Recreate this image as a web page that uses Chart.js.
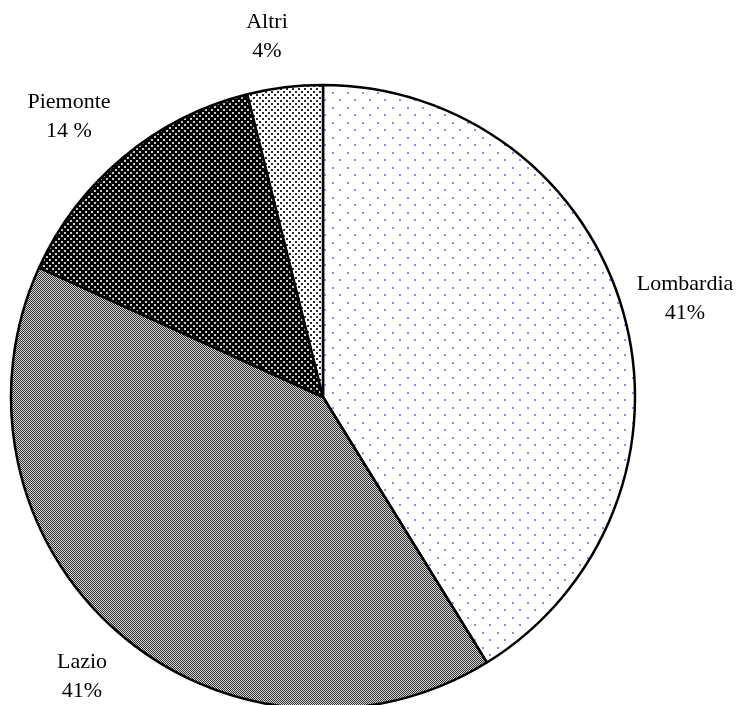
<!DOCTYPE html>
<html>
<head>
<meta charset="utf-8">
<script src="https://cdn.jsdelivr.net/npm/chart.js@4.4.1/dist/chart.umd.min.js"></script>
<style>
  body { margin: 0; background: #fff; }
  #wrap { width: 737px; height: 705px; }
</style>
</head>
<body>
<div id="wrap"><canvas id="pieChart" width="737" height="705"></canvas></div>
<script>
// regions and shares (percent)
const regions = ["Lombardia", "Lazio", "Piemonte", "Altri"];
const shares = [41.2, 40.6, 14.3, 3.9];
const shareLabels = ["41%", "41%", "14 %", "4%"];

// small tiled fills that mimic the print patterns
function makePattern(size, bg, dot, dots, dotSize) {
  const c = document.createElement("canvas");
  c.width = size[0];
  c.height = size[1];
  const g = c.getContext("2d");
  g.fillStyle = bg;
  g.fillRect(0, 0, c.width, c.height);
  g.fillStyle = dot;
  dots.forEach(p => g.fillRect(p[0], p[1], dotSize, dotSize));
  return g.createPattern(c, "repeat");
}

const ctx = document.getElementById("pieChart").getContext("2d");

const fills = [
  makePattern([15, 15], "#ffffff", "#8c8cff", [[2, 2], [9, 9]], 2),
  makePattern([2, 2], "#d8d8d8", "#303030", [[0, 0], [1, 1]], 1),
  makePattern([6, 6], "#000000", "#c8c8c8", [[1, 1], [4, 4]], 2),
  makePattern([6, 6], "#ffffff", "#2a2a2a", [[1, 1], [4, 4]], 2)
];

// label spots, as placed in the original (centre x, first baseline)
const labelSpots = [[685, 290], [82, 668], [69, 108], [267, 28]];

const outsideLabels = {
  id: "outsideLabels",
  afterDatasetsDraw(chart) {
    const c = chart.ctx;
    c.save();
    c.font = "22px 'Liberation Serif', 'Times New Roman', serif";
    c.fillStyle = "#000";
    c.textAlign = "center";
    c.textBaseline = "alphabetic";
    regions.forEach((name, i) => {
      const [x, y] = labelSpots[i];
      c.fillText(name, x, y);
      c.fillText(shareLabels[i], x, y + 29);
    });
    c.restore();
  }
};

new Chart(ctx, {
  type: "pie",
  data: {
    labels: regions,
    datasets: [{
      data: shares,
      backgroundColor: fills,
      borderColor: "#000",
      borderWidth: 2.5,
      clip: false
    }]
  },
  options: {
    responsive: false,
    devicePixelRatio: 1,
    animation: false,
    radius: 312,
    layout: { padding: { left: 0, right: 91, top: 89, bottom: 0 } },
    plugins: {
      legend: { display: false },
      tooltip: { enabled: false }
    }
  },
  plugins: [outsideLabels]
});
</script>
</body>
</html>
